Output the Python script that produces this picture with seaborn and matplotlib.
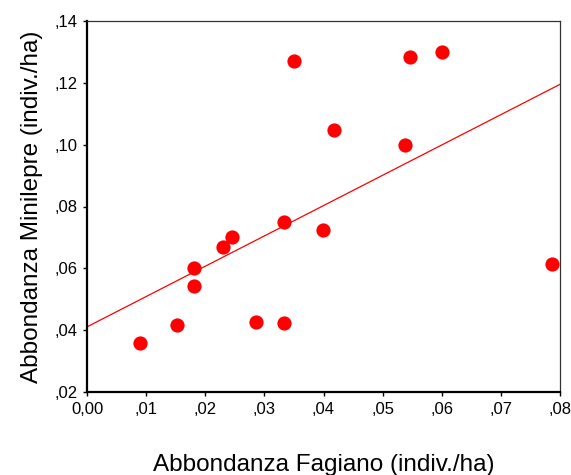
import matplotlib
matplotlib.use("Agg")
import matplotlib.pyplot as plt
import seaborn as sns
import pandas as pd
from matplotlib.ticker import FuncFormatter

fagiano = [0.0090, 0.0152, 0.0181, 0.0181, 0.0230, 0.0245, 0.0286, 0.0333,
           0.0333, 0.0350, 0.0399, 0.0418, 0.0538, 0.0546, 0.0600, 0.0786]
minilepre = [0.0359, 0.0417, 0.0601, 0.0543, 0.0669, 0.0701, 0.0427, 0.0750,
             0.0423, 0.1271, 0.0724, 0.1047, 0.0999, 0.1284, 0.1300, 0.0614]
x_ticks = [0.00, 0.01, 0.02, 0.03, 0.04, 0.05, 0.06, 0.07, 0.08]
y_ticks = [0.02, 0.04, 0.06, 0.08, 0.10, 0.12, 0.14]

df = pd.DataFrame({"Fagiano": fagiano, "Minilepre": minilepre})

sns.set_style("white")
plt.rcParams['font.family'] = ['Liberation Sans', 'DejaVu Sans']
plt.rcParams['axes.labelcolor'] = 'black'
plt.rcParams['text.color'] = 'black'

fig = plt.figure(figsize=(5.71, 4.75), dpi=100)
ax = fig.add_axes([87/571, 1-392/475, (560-87)/571, (392-21)/475])
ax.set_xlim(0.0, 0.08)
ax.set_ylim(0.02, 0.14)

sns.regplot(data=df, x="Fagiano", y="Minilepre", ax=ax, ci=None, truncate=False,
            color="#ff0000",
            scatter_kws=dict(s=105, alpha=1, linewidths=0),
            line_kws=dict(lw=0.9))
ax.set_xlim(0.0, 0.08)
ax.set_ylim(0.02, 0.14)

def fmt_x(v, pos):
    if abs(v) < 1e-9:
        return "0,00"
    return ("%.2f" % v).lstrip("0").replace(".", ",")

def fmt_y(v, pos):
    return ("%.2f" % v).lstrip("0").replace(".", ",")

ax.set_xticks(x_ticks)
ax.set_yticks(y_ticks)
ax.xaxis.set_major_formatter(FuncFormatter(fmt_x))
ax.yaxis.set_major_formatter(FuncFormatter(fmt_y))
ax.tick_params(axis="both", which="major", labelsize=12, length=3, width=1,
               direction="out", colors="black", pad=4, bottom=True, left=True)

for side in ["left", "bottom"]:
    ax.spines[side].set_linewidth(1.6)
    ax.spines[side].set_color("black")
for side in ["top", "right"]:
    ax.spines[side].set_linewidth(0.9)
    ax.spines[side].set_color("#333333")

ax.set_xlabel("Abbondanza Fagiano (indiv./ha)", fontsize=17.5, labelpad=27, color="black")
ax.set_ylabel("Abbondanza Minilepre (indiv./ha)", fontsize=17.5, labelpad=8, color="black")

fig.savefig("out.png", dpi=100)
